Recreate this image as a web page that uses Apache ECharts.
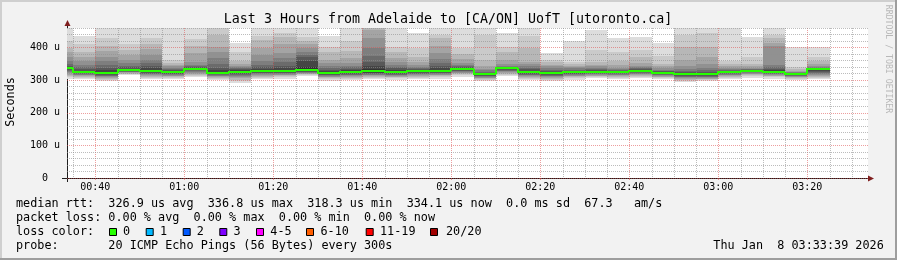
<!DOCTYPE html>
<html><head><meta charset="utf-8">
<script src="https://cdn.jsdelivr.net/npm/echarts@6/dist/echarts.min.js"></script>
<style>html,body{margin:0;padding:0;background:#f2f2f2;}#c{width:897px;height:260px;}</style>
</head><body><div id="c"></div>
<script>
// ---------- data ----------
const titleText = 'Last 3 Hours from Adelaide to [CA/ON] UofT [utoronto.ca]';
const axisStart = '00:33:39';
const axisEnd = '03:33:39';
const stepSeconds = 300;
// end time of each 5-minute sample
const columnEnds = ['00:35','00:40','00:45','00:50','00:55','01:00','01:05','01:10','01:15','01:20',
  '01:25','01:30','01:35','01:40','01:45','01:50','01:55','02:00','02:05','02:10',
  '02:15','02:20','02:25','02:30','02:35','02:40','02:45','02:50','02:55','03:00',
  '03:05','03:10','03:15','03:20','03:25'];
// median rtt per sample (microseconds)
const medians = [336,325,322,331,328,325,335,322,326,329,329,332,323,325,328,325,328,329,335,318.3,
  336.8,325,322,325,326,325,329,323,320,320,325,329,326,319,334.1];
// 20 sorted ping times per sample (microseconds)
const pings = [
  [304,309,313,317,321,325,328,331,333,335,338,341,345,350,358,370,385,400,420,480],
  [305,308,311,313,315,317,319,321,322,324,326,329,333,340,348,358,370,385,412,434],
  [297,301,304,307,310,312,314,316,318,320,324,330,338,348,358,372,388,405,430,480],
  [316,318,320,322,324,325,326,327,329,330,332,335,339,345,352,362,378,392,410,475],
  [305,308,311,314,316,318,320,322,324,326,330,336,344,352,362,378,396,410,428,480],
  [303,306,309,312,314,316,318,320,322,324,326,328,331,334,338,343,348,354,362,470],
  [309,313,317,320,323,326,328,330,332,334,336.5,338,340,343,348,356,383,405,426,480],
  [302,305,308,310,312,314,316,318,319,320.5,325,330,338,350,368,385,403,440,470,490],
  [291,296,301,306,310,314,317,320,322,324,328,330,333,336,339,342,350,358,385,414],
  [303,307,311,314,317,319,321,323,325,327,331,335,340,348,360,377,400,423,437,480],
  [305,309,312,315,317,319,321,323,325,327,332,337,345,355,368,383,410,433,445,485],
  [313,316,318,320,322,323,324,326,328,329,339,358,370,378,385,398,411,420,432,490],
  [299,303,306,309,311,313,315,317,319,321,325,328,332,337,344,352,362,385,403,434],
  [301,305,308,311,313,315,317,319,321,323,327,330,334,339,345,352,368,390,420,470],
  [303,307,310,313,315,317,319,321,323,325,333,343,356,375,400,430,455,470,490,520],
  [302,306,309,311,313,315,317,319,321,323,327,331,336,341,347,355,367,385,403,470],
  [304,308,311,314,316,318,320,322,324,326,330,332,334,337,341,346,355,372,400,445],
  [305,309,312,315,317,319,321,323,325,327,331,336,343,352,365,383,405,428,440,480],
  [311,315,318,321,323,325,327,329,331,333,336,337.5,339,342,346,352,365,380,398,470],
  [296,300,303,306,308,310,312,314,316,317.5,319.5,321,323,326,330,335,342,362,440,470],
  [312,316,319,322,325,327,329,331,333,335.5,337.5,338.5,339.5,341,344,350,362,385,403,444],
  [301,305,308,311,313,315,317,319,321,323,326.5,329,333,338,343,350,357,400,437,470],
  [298,302,305,308,310,312,314,316,318,320.5,323.5,325,328,332,337,342,348,355,362,383],
  [302,306,309,312,314,316,318,320,322,324,326,327,329,332,336,340,345,350,357,421],
  [306,309,312,314,316,318,320,322,324,325,327.5,329,331,334,338,342,348,357,393,454],
  [304,307,310,313,315,317,319,321,322,324,326,327,329,331,334,338,348,358,385,430],
  [306,310,313,316,318,320,322,324,326,328,330,331,333,336,340,345,352,370,393,433],
  [303,306,309,311,313,315,317,319,320,322,324,325,327,329,332,336,343,350,375,413],
  [294,298,301,304,307,309,311,313,315,318,321,323,325,329,335,345,362,401,440,480],
  [296,300,303,305,307,309,311,313,315,318,321.5,323,326,331,338,350,372,401,445,480],
  [303,307,310,313,315,317,319,321,322,324,326,327,329,331,334,338,343,350,360,480],
  [308,312,315,318,320,322,324,326,327,328,330,330.5,331.5,333,335,338,343,350,370,432],
  [305,309,312,314,316,318,320,322,323,325,328,331,335,340,348,405,415,428,440,490],
  [300,304,307,309,311,313,314,316,317,318.5,319.5,320.5,321.5,322.5,324,326,329,333,340,401],
  [303,307,311,314,317,320,323,326,329,332,335.5,336,337,338,340,344,350,360,372,401]
];
const xTickLabels = ['00:40','01:00','01:20','01:40','02:00','02:20','02:40','03:00','03:20'];
const yMax = 460;
const yTickLabels = ['0','100 u','200 u','300 u','400 u'];
const legendRtt = 'median rtt:  326.9 us avg  336.8 us max  318.3 us min  334.1 us now  0.0 ms sd  67.3   am/s';
const legendLoss = 'packet loss: 0.00 % avg  0.00 % max  0.00 % min  0.00 % now';
const lossLabels = ['0','1','2','3','4-5','6-10','11-19','20/20'];
const lossColors = ['#26ff00','#00b8ff','#0059ff','#7e00ff','#ff00ff','#ff5e00','#ff0000','#a10000'];
const probeText = 'probe:       20 ICMP Echo Pings (56 Bytes) every 300s';
const dateText = 'Thu Jan  8 03:33:39 2026';
const yAxisName = 'Seconds';
const watermark = 'RRDTOOL / TOBI OETIKER';

// ---------- helpers ----------
function toSec(s){const p=s.split(':').map(Number);return p[0]*3600+p[1]*60+(p[2]||0);}
function fmt(t){const h=Math.floor(t/3600),m=Math.floor((t%3600)/60);return String(h).padStart(2,'0')+':'+String(m).padStart(2,'0');}
const xMin = toSec(axisStart), xMax = toSec(axisEnd);
const bandColors = [];
for (let i=1;i<=10;i++){const c=Math.floor(190/10*(10-i))+50;const h=c.toString(16).padStart(2,'0');bandColors.push('#'+h+h+h);}

const smokeData = columnEnds.map((e,i)=>{const t=toSec(e);return [t-stepSeconds,t].concat(pings[i]);});
const medData = columnEnds.map((e,i)=>{const t=toSec(e);return [t-stepSeconds,t,medians[i],i>0?medians[i-1]:medians[i]];});
const gridTimes = [];
for (let t=Math.ceil(xMin/stepSeconds)*stepSeconds; t<=xMax; t+=stepSeconds) gridTimes.push(t);

const MONO = "'DejaVu Sans Mono', monospace";
const GRID_MINOR = 'rgba(143,143,143,0.6)';
const GRID_MAJOR = 'rgba(222,79,79,0.55)';

const chart = echarts.init(document.getElementById('c'), null, {renderer:'canvas'});

function renderSmoke(params, api){
  const cs = params.coordSys;
  const x0 = Math.round(api.coord([api.value(0),0])[0]);
  const x1 = Math.round(api.coord([api.value(1),0])[0]);
  const children = [];
  for (let b=0;b<10;b++){
    const lo = api.value(2+b), hi = api.value(21-b);
    const yLo = Math.round(api.coord([0,lo])[1]), yHi = Math.round(api.coord([0,hi])[1]);
    const r = echarts.graphic.clipRectByRect({x:x0,y:yHi,width:x1-x0,height:yLo-yHi},{x:cs.x,y:cs.y,width:cs.width,height:cs.height});
    if (r && r.height>0) children.push({type:'rect',shape:r,style:{fill:bandColors[b]}});
  }
  return {type:'group',children};
}
function renderMedian(params, api){
  const cs = params.coordSys;
  const x0 = Math.round(api.coord([api.value(0),0])[0]);
  const x1 = Math.round(api.coord([api.value(1),0])[0]);
  const y = Math.round(api.coord([0,api.value(2)])[1]);
  const yp = Math.round(api.coord([0,api.value(3)])[1]);
  const xa = Math.max(x0,cs.x), xb = Math.min(x1,cs.x+cs.width);
  if (xb<=xa) return null;
  return {type:'polyline',shape:{points:[[xa,yp],[xa,y],[xb,y]]},
    style:{stroke:lossColors[0],lineWidth:2,fill:null,lineJoin:'miter'}};
}
function renderVGrid(params, api){
  const cs = params.coordSys;
  const t = api.value(0);
  const x = Math.round(api.coord([t,0])[0])+0.5;
  const major = (t % 1200)===0;
  return {type:'line',shape:{x1:x,y1:cs.y,x2:x,y2:cs.y+cs.height},
    style:{stroke: major?GRID_MAJOR:GRID_MINOR, lineWidth:1, lineDash:[1,1]}};
}

const legendY = [204.3,218.3,232.3,246.2];
const boxX = [109,145.7,182.7,219.3,256,306,365.7,430];
const labX = [123,160,196.7,233.5,270.3,320.5,380,446];

const graphics = [
  {type:'rect',shape:{x:0,y:0,width:897,height:2},style:{fill:'#cfcfcf'},silent:true},
  {type:'rect',shape:{x:0,y:0,width:2,height:260},style:{fill:'#cfcfcf'},silent:true},
  {type:'rect',shape:{x:895,y:0,width:2,height:260},style:{fill:'#9e9e9e'},silent:true},
  {type:'rect',shape:{x:0,y:258,width:897,height:2},style:{fill:'#9e9e9e'},silent:true},
  {type:'text',x:448,y:19.3,style:{text:titleText,font:'13.3px '+MONO,fill:'#000',align:'center',verticalAlign:'middle'},silent:true},
  {type:'text',x:11,y:102,rotation:Math.PI/2,style:{text:yAxisName,font:'11.8px '+MONO,fill:'#000',align:'center',verticalAlign:'middle'},silent:true},
  {type:'text',x:888,y:59,rotation:-Math.PI/2,style:{text:watermark,font:'8.2px '+MONO,fill:'#b8b8b8',align:'center',verticalAlign:'middle'},silent:true},
  {type:'line',shape:{x1:67.5,y1:22,x2:67.5,y2:182},style:{stroke:'#1f1f1f',lineWidth:1},silent:true},
  {type:'line',shape:{x1:62,y1:178.5,x2:869,y2:178.5},style:{stroke:'#1f1f1f',lineWidth:1},silent:true},
  {type:'polygon',shape:{points:[[64.5,26],[70.5,26],[67.5,20]]},style:{fill:'#801f1f'},silent:true},
  {type:'polygon',shape:{points:[[868,175.5],[868,181.5],[874,178.5]]},style:{fill:'#801f1f'},silent:true},
  {type:'text',x:16,y:legendY[0],style:{text:legendRtt,font:'11.8px '+MONO,fill:'#000',verticalAlign:'middle'},silent:true},
  {type:'text',x:16,y:legendY[1],style:{text:legendLoss,font:'11.8px '+MONO,fill:'#000',verticalAlign:'middle'},silent:true},
  {type:'text',x:16,y:legendY[2],style:{text:'loss color:',font:'11.8px '+MONO,fill:'#000',verticalAlign:'middle'},silent:true},
  {type:'text',x:16,y:legendY[3],style:{text:probeText,font:'11.8px '+MONO,fill:'#000',verticalAlign:'middle'},silent:true},
  {type:'text',x:713.3,y:legendY[3],style:{text:dateText,font:'11.8px '+MONO,fill:'#000',verticalAlign:'middle'},silent:true}
];
lossLabels.forEach((l,i)=>{
  graphics.push({type:'rect',shape:{x:boxX[i]+0.5,y:228.5,width:7,height:7},style:{fill:lossColors[i],stroke:'#000',lineWidth:1},silent:true});
  graphics.push({type:'text',x:labX[i],y:legendY[2],style:{text:l,font:'11.8px '+MONO,fill:'#000',verticalAlign:'middle'},silent:true});
});

chart.setOption({
  animation:false,
  backgroundColor:'#f2f2f2',
  grid:{left:67,top:28,right:29,bottom:82,show:true,backgroundColor:'#ffffff',borderWidth:0},
  xAxis:{type:'value',min:xMin,max:xMax,
    axisLine:{show:false},
    axisTick:{show:true,customValues:xTickLabels.map(toSec),length:2,inside:false,lineStyle:{color:GRID_MAJOR}},
    splitLine:{show:false},
    axisLabel:{customValues:xTickLabels.map(toSec),formatter:v=>fmt(v),fontFamily:MONO,fontSize:10,color:'#000',margin:4}},
  yAxis:{type:'value',min:0,max:yMax,interval:20,z:5,
    axisLine:{show:false},axisTick:{show:false},
    splitLine:{show:true,lineStyle:{color:[GRID_MAJOR,GRID_MINOR,GRID_MINOR,GRID_MINOR,GRID_MINOR],type:[1,1],width:1}},
    axisLabel:{fontFamily:MONO,fontSize:10,color:'#000',margin:7,
      formatter:v=>{if(v%100!==0)return '';const s=yTickLabels[v/100];return s==='0'?'0  ':s;}}},
  series:[
    {type:'custom',name:'smoke',renderItem:renderSmoke,data:smokeData,z:2,silent:true,encode:{x:[0,1],y:[2,21]}},
    {type:'custom',name:'vgrid',renderItem:renderVGrid,data:gridTimes.map(t=>[t]),z:4,silent:true,encode:{x:0}},
    {type:'custom',name:'median',renderItem:renderMedian,data:medData,z:7,silent:true,encode:{x:[0,1],y:[2,3]}}
  ],
  graphic:graphics
});
</script></body></html>
